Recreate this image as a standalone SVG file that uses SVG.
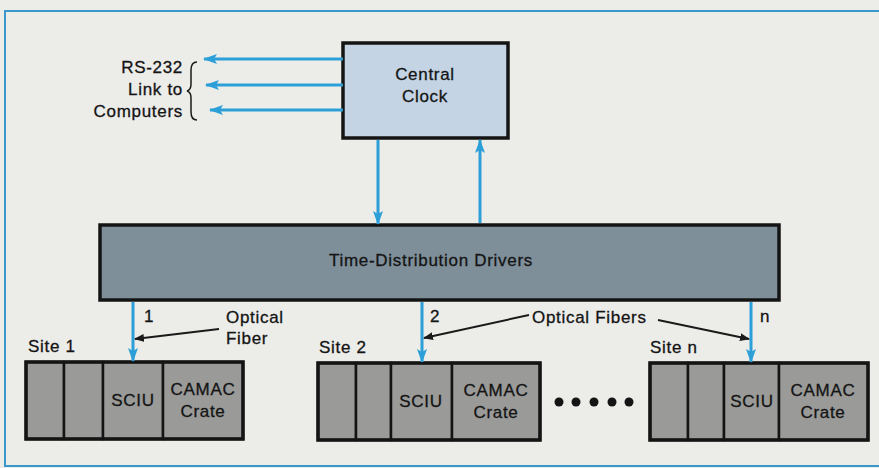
<svg xmlns="http://www.w3.org/2000/svg" width="879" height="468" viewBox="0 0 879 468">
<defs>
<style>
text{font-family:"Liberation Sans",Arial,sans-serif;font-size:17px;fill:#141414;stroke:#141414;stroke-width:0.3px;letter-spacing:0.7px}
.c{text-anchor:middle}
.r{text-anchor:end}
.box{stroke:#141414;stroke-width:3.5}
.cell{fill:#9a9b99;stroke:#141414;stroke-width:2.5}
.bl{stroke:#2c9fd8;stroke-width:3;fill:none}
.pk{stroke:#1a1a1a;stroke-width:2;fill:none}
</style>
<marker id="ab" viewBox="0 0 14 10" refX="13" refY="5" markerWidth="14" markerHeight="10" markerUnits="userSpaceOnUse" orient="auto">
<path d="M0,0 L14,5 L0,10 L3,5 Z" fill="#2c9fd8"/>
</marker>
<marker id="ak" viewBox="0 0 10 8" refX="9" refY="4" markerWidth="10" markerHeight="8" markerUnits="userSpaceOnUse" orient="auto">
<path d="M0,0 L10,4 L0,8 Z" fill="#1a1a1a"/>
</marker>
</defs>
<rect width="879" height="468" fill="#ecece9"/>
<rect x="5" y="11" width="890" height="455" fill="none" stroke="#3a98cc" stroke-width="2"/>

<g id="rs232">
<text class="r" x="183" y="73">RS-232</text>
<text class="r" x="183" y="95">Link to</text>
<text class="r" x="183" y="117">Computers</text>
<path d="M197,62 Q191,62 191,70 L191,84 Q191,90 187,91 Q191,92 191,98 L191,112 Q191,120 197,120" fill="none" stroke="#1a1a1a" stroke-width="1.5"/>
</g>

<g id="central-clock">
<rect class="box" x="343" y="43" width="165" height="95" fill="#c4d4e4"/>
<text class="c" x="425" y="80">Central</text>
<text class="c" x="425" y="102">Clock</text>
</g>

<g id="drivers">
<rect class="box" x="100" y="225" width="679" height="75" fill="#7f8f99"/>
<text class="c" x="431" y="266">Time-Distribution Drivers</text>
</g>

<g id="site1">
<text x="28" y="352">Site 1</text>
<rect class="cell" x="26" y="362" width="38" height="77"/>
<rect class="cell" x="64" y="362" width="39" height="77"/>
<rect class="cell" x="103" y="362" width="60" height="77"/>
<rect class="cell" x="163" y="362" width="80" height="77"/>
<rect x="26" y="362" width="217" height="77" fill="none" class="box"/>
<text class="c" x="133" y="406">SCIU</text>
<text class="c" x="203" y="395">CAMAC</text>
<text class="c" x="203" y="417">Crate</text>
</g>

<g id="site2">
<text x="319" y="353">Site 2</text>
<rect class="cell" x="318" y="363" width="38" height="77"/>
<rect class="cell" x="356" y="363" width="35" height="77"/>
<rect class="cell" x="391" y="363" width="61" height="77"/>
<rect class="cell" x="452" y="363" width="88" height="77"/>
<rect x="318" y="363" width="222" height="77" fill="none" class="box"/>
<text class="c" x="421" y="407">SCIU</text>
<text class="c" x="496" y="396">CAMAC</text>
<text class="c" x="496" y="418">Crate</text>
</g>

<g id="ellipsis" fill="#141414">
<circle cx="559" cy="402" r="4.5"/>
<circle cx="576" cy="402" r="4.5"/>
<circle cx="594" cy="402" r="4.5"/>
<circle cx="612" cy="402" r="4.5"/>
<circle cx="629" cy="402" r="4.5"/>
</g>

<g id="siten">
<text x="650" y="353">Site n</text>
<rect class="cell" x="650" y="363" width="38" height="77"/>
<rect class="cell" x="688" y="363" width="36" height="77"/>
<rect class="cell" x="724" y="363" width="55" height="77"/>
<rect class="cell" x="779" y="363" width="89" height="77"/>
<rect x="650" y="363" width="218" height="77" fill="none" class="box"/>
<text class="c" x="752" y="407">SCIU</text>
<text class="c" x="823" y="396">CAMAC</text>
<text class="c" x="823" y="418">Crate</text>
</g>

<g id="connectors">
<line class="bl" x1="343" y1="59" x2="204" y2="59" marker-end="url(#ab)"/>
<line class="bl" x1="343" y1="85" x2="206" y2="85" marker-end="url(#ab)"/>
<line class="bl" x1="343" y1="110" x2="210" y2="110" marker-end="url(#ab)"/>
<line class="bl" x1="378" y1="140" x2="378" y2="224" marker-end="url(#ab)"/>
<line class="bl" x1="480" y1="223" x2="480" y2="140" marker-end="url(#ab)"/>
<line class="bl" x1="133" y1="302" x2="133" y2="361" marker-end="url(#ab)"/>
<line class="bl" x1="422" y1="302" x2="422" y2="362" marker-end="url(#ab)"/>
<line class="bl" x1="751" y1="302" x2="751" y2="362" marker-end="url(#ab)"/>
<line class="pk" x1="219" y1="329" x2="135" y2="339" marker-end="url(#ak)"/>
<line class="pk" x1="529" y1="315" x2="424" y2="338" marker-end="url(#ak)"/>
<line class="pk" x1="658" y1="320" x2="749" y2="339" marker-end="url(#ak)"/>
</g>

<g id="labels">
<text x="144" y="322">1</text>
<text x="430" y="322">2</text>
<text x="760" y="322">n</text>
<text x="226" y="323">Optical</text>
<text x="226" y="344">Fiber</text>
<text x="532" y="323">Optical Fibers</text>
</g>
</svg>
